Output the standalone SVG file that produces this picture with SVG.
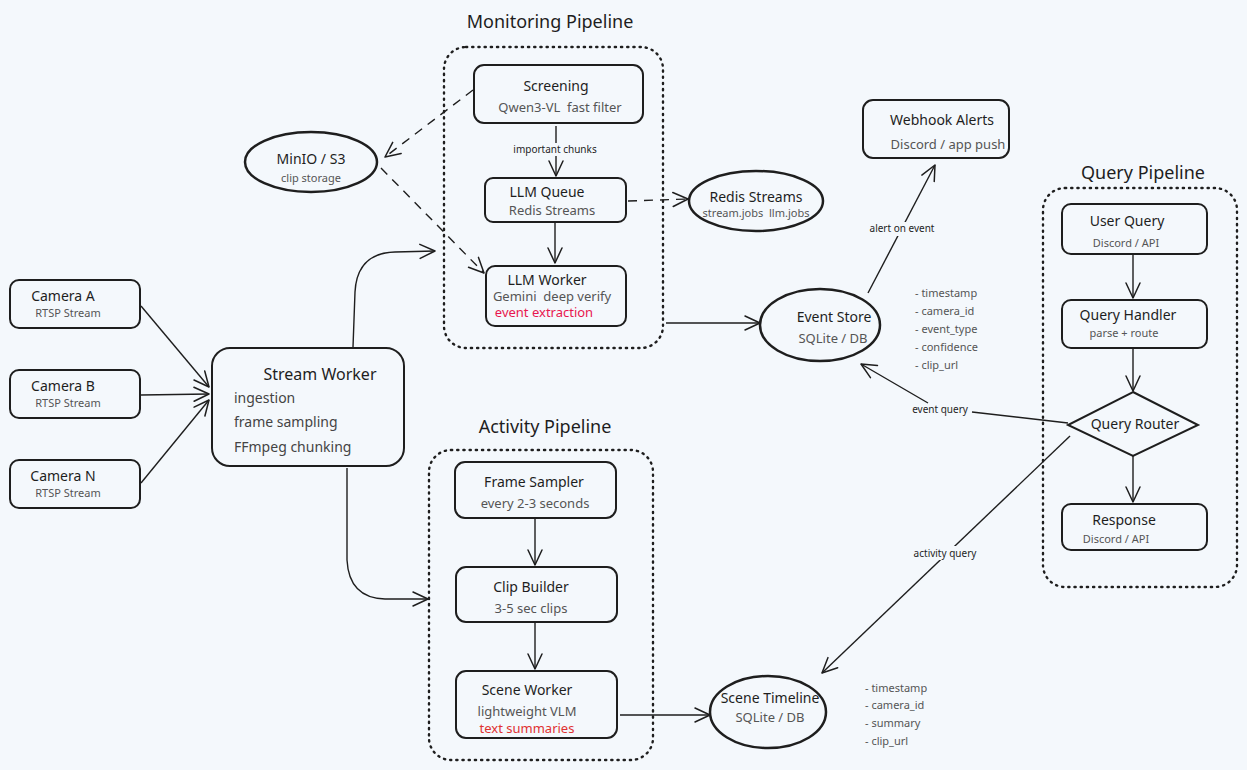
<svg xmlns="http://www.w3.org/2000/svg" width="1247" height="770" viewBox="0 0 1247 770">
<defs>
<marker id="arr" viewBox="0 0 18 18" refX="16" refY="9" markerWidth="18" markerHeight="18" markerUnits="userSpaceOnUse" orient="auto">
<path d="M1,2 L16,9 L1,16" fill="none" stroke="#1e1e1e" stroke-width="1.5" stroke-linecap="round" stroke-linejoin="round"/>
</marker>
<style>
text{font-family:"Noto Sans","DejaVu Sans",sans-serif;fill:#1e1e1e;white-space:pre;}
.title{font-size:18px;text-anchor:middle;}
.h{font-size:14px;text-anchor:middle;}
.hb{font-size:16px;text-anchor:middle;}
.sub{font-size:13px;text-anchor:middle;fill:#555;}
.subl{font-size:14px;fill:#444;}
.sm{font-size:11px;text-anchor:middle;fill:#555;}
.lbl{font-size:10px;text-anchor:middle;fill:#1e1e1e;}
.fld{font-size:11px;fill:#555;}
.red{fill:#e8174f;}
.red2{fill:#e03131;}
.box{fill:none;stroke:#1e1e1e;stroke-width:2;}
.ell{fill:none;stroke:#1e1e1e;stroke-width:2.5;}
.grp{fill:none;stroke:#1e1e1e;stroke-width:2.4;stroke-dasharray:1.2 5;stroke-linecap:round;}
.c{fill:none;stroke:#1e1e1e;stroke-width:1.4;marker-end:url(#arr);}
.d{stroke-dasharray:9 7;}
.lbg{fill:#f4f8fc;}
</style>
</defs>
<rect width="1247" height="770" fill="#f4f8fc"/>

<!-- Groups / containers -->
<g id="monitoring-pipeline">
<rect class="grp" x="444" y="47" width="219" height="301" rx="22"/>
<text class="title" x="550" y="28">Monitoring Pipeline</text>
</g>
<g id="activity-pipeline">
<rect class="grp" x="429" y="450" width="224" height="310" rx="22"/>
<text class="title" x="545" y="433">Activity Pipeline</text>
</g>
<g id="query-pipeline">
<rect class="grp" x="1043" y="188" width="194" height="399" rx="22"/>
<text class="title" x="1143" y="179">Query Pipeline</text>
</g>

<!-- Connectors -->
<g id="connectors">
<path class="c" d="M141,306 L209,387"/>
<path class="c" d="M141,395 L209,394"/>
<path class="c" d="M141,483 L209,400"/>
<path class="c" d="M353,347 L355,292 Q357,253 395,252 L435,251"/>
<path class="c" d="M347,468 L347,560 Q349,598 385,599 L428,599"/>
<path class="c d" d="M473,90 L385,157"/>
<path class="c d" d="M381,168 L484,273"/>
<path class="c" d="M556,126 L556,176"/>
<rect class="lbg" x="507" y="143" width="96" height="13"/>
<text class="lbl" x="555" y="153">important chunks</text>
<path class="c" d="M555,222 L555,263"/>
<path class="c d" d="M628,201 L688,199"/>
<path class="c" d="M666,323 L760,323"/>
<path class="c" d="M868,293 L935,165"/>
<rect class="lbg" x="862" y="222" width="80" height="14"/>
<text class="lbl" x="902" y="232">alert on event</text>
<path class="c" d="M535,519 L535,565"/>
<path class="c" d="M535,623 L535,669"/>
<path class="c" d="M1133,255 L1133,298"/>
<path class="c" d="M1133,349 L1133,391"/>
<path class="c" d="M1133,456 L1133,502"/>
<path class="c" d="M1068,423 L972,412 M928,403 L861,364"/>
<text class="lbl" x="940" y="413">event query</text>
<path class="c" d="M1070,436 L822,673"/>
<rect class="lbg" x="905" y="546" width="80" height="14"/>
<text class="lbl" x="945" y="557">activity query</text>
<path class="c" d="M620,715 L710,715"/>
</g>

<!-- Cameras -->
<g id="camera-a">
<rect class="box" x="10" y="280" width="130" height="48" rx="9"/>
<text class="h" x="63" y="301" font-size="13">Camera A</text>
<text class="sm" x="68" y="317">RTSP Stream</text>
</g>
<g id="camera-b">
<rect class="box" x="10" y="370" width="130" height="48" rx="9"/>
<text class="h" x="63" y="391" font-size="13">Camera B</text>
<text class="sm" x="68" y="407">RTSP Stream</text>
</g>
<g id="camera-n">
<rect class="box" x="10" y="460" width="130" height="48" rx="9"/>
<text class="h" x="63" y="481" font-size="13">Camera N</text>
<text class="sm" x="68" y="497">RTSP Stream</text>
</g>

<!-- Stream worker -->
<g id="stream-worker">
<rect class="box" x="212" y="348" width="192" height="118" rx="18"/>
<text class="hb" x="320" y="380">Stream Worker</text>
<text class="subl" x="234" y="403">ingestion</text>
<text class="subl" x="234" y="427">frame sampling</text>
<text class="subl" x="234" y="452">FFmpeg chunking</text>
</g>

<!-- Monitoring nodes -->
<g id="screening">
<rect class="box" x="474" y="65" width="169" height="58" rx="10"/>
<text class="h" x="556" y="91" font-size="15">Screening</text>
<text class="sub" x="560" y="112" font-size="14">Qwen3-VL  fast filter</text>
</g>
<g id="llm-queue">
<rect class="box" x="485" y="178" width="141" height="44" rx="8"/>
<text class="h" x="547" y="197" font-size="13">LLM Queue</text>
<text class="sub" x="552" y="215" font-size="12">Redis Streams</text>
</g>
<g id="llm-worker">
<rect class="box" x="486" y="266" width="140" height="60" rx="9"/>
<text class="h" x="547" y="285" font-size="13">LLM Worker</text>
<text class="sub" x="552" y="301" font-size="11.5">Gemini  deep verify</text>
<text class="sub red" x="544" y="317" font-size="11.5">event extraction</text>
</g>
<g id="minio">
<ellipse class="ell" cx="311" cy="162" rx="66" ry="30"/>
<text class="h" x="311" y="164" font-size="13">MinIO / S3</text>
<text class="sm" x="311" y="182">clip storage</text>
</g>
<g id="redis-streams">
<ellipse class="ell" cx="756" cy="201" rx="67" ry="30"/>
<text class="h" x="756" y="202" font-size="13">Redis Streams</text>
<text class="sm" x="756" y="217">stream.jobs  llm.jobs</text>
</g>

<!-- Event store & webhook -->
<g id="event-store">
<ellipse class="ell" cx="820" cy="325" rx="60" ry="36"/>
<text class="h" x="834" y="322" font-size="13">Event Store</text>
<text class="sub" x="833" y="343" font-size="12">SQLite / DB</text>
</g>
<g id="event-fields">
<text class="fld" x="915" y="297">- timestamp</text>
<text class="fld" x="915" y="315">- camera_id</text>
<text class="fld" x="915" y="333">- event_type</text>
<text class="fld" x="915" y="351">- confidence</text>
<text class="fld" x="915" y="369">- clip_url</text>
</g>
<g id="webhook-alerts">
<rect class="box" x="863" y="100" width="146" height="58" rx="10"/>
<text class="h" x="942" y="125" font-size="15">Webhook Alerts</text>
<text class="sub" x="948" y="149" font-size="14">Discord / app push</text>
</g>

<!-- Activity nodes -->
<g id="frame-sampler">
<rect class="box" x="455" y="462" width="161" height="56" rx="10"/>
<text class="h" x="534" y="487" font-size="15">Frame Sampler</text>
<text class="sub" x="535" y="508" font-size="13">every 2-3 seconds</text>
</g>
<g id="clip-builder">
<rect class="box" x="456" y="567" width="161" height="55" rx="10"/>
<text class="h" x="531" y="592" font-size="15">Clip Builder</text>
<text class="sub" x="531" y="613" font-size="13">3-5 sec clips</text>
</g>
<g id="scene-worker">
<rect class="box" x="456" y="671" width="161" height="67" rx="10"/>
<text class="h" x="527" y="695" font-size="15">Scene Worker</text>
<text class="sub" x="527" y="716" font-size="12.5">lightweight VLM</text>
<text class="sub red2" x="527" y="733" font-size="12.5">text summaries</text>
</g>
<g id="scene-timeline">
<ellipse class="ell" cx="768" cy="712" rx="58" ry="36"/>
<text class="h" x="770" y="703" font-size="12">Scene Timeline</text>
<text class="sub" x="770" y="722" font-size="12">SQLite / DB</text>
</g>
<g id="scene-fields">
<text class="fld" x="865" y="692">- timestamp</text>
<text class="fld" x="865" y="709">- camera_id</text>
<text class="fld" x="865" y="727">- summary</text>
<text class="fld" x="865" y="745">- clip_url</text>
</g>

<!-- Query nodes -->
<g id="user-query">
<rect class="box" x="1062" y="204" width="145" height="50" rx="9"/>
<text class="h" x="1127" y="226" font-size="13">User Query</text>
<text class="sm" x="1126" y="247">Discord / API</text>
</g>
<g id="query-handler">
<rect class="box" x="1062" y="300" width="145" height="48" rx="9"/>
<text class="h" x="1128" y="320" font-size="13">Query Handler</text>
<text class="sm" x="1124" y="337">parse + route</text>
</g>
<g id="query-router">
<polygon class="box" points="1133,392 1198,425 1133,456 1068,425"/>
<text class="h" x="1135" y="429" font-size="12">Query Router</text>
</g>
<g id="response">
<rect class="box" x="1062" y="504" width="145" height="46" rx="9"/>
<text class="h" x="1124" y="525" font-size="13">Response</text>
<text class="sm" x="1116" y="543">Discord / API</text>
</g>
</svg>
